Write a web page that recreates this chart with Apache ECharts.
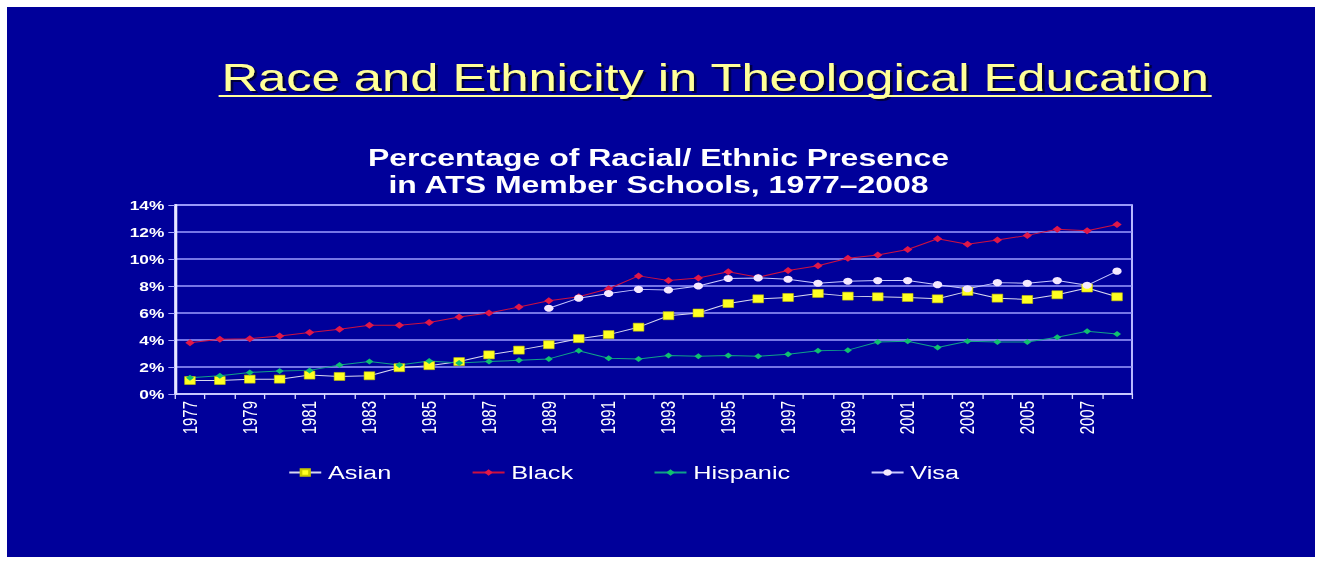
<!DOCTYPE html>
<html>
<head>
<meta charset="utf-8">
<script src="https://cdn.jsdelivr.net/npm/echarts@6/dist/echarts.min.js"></script>
<style>
  html, body { margin: 0; padding: 0; background: #ffffff; width: 1317px; height: 563px; overflow: hidden; }
  #slide { position: absolute; left: 7px; top: 7px; width: 1308px; height: 550px; background: #00009a; }
  #chart { position: absolute; left: 0; top: 0; width: 988px; height: 563px; transform-origin: 0 0; transform: scaleX(1.333006); }
</style>
</head>
<body>
<div id="slide"></div>
<div id="chart"></div>
<script>
// ---- data ----
const years = ['1977','1978','1979','1980','1981','1982','1983','1984','1985','1986','1987','1988','1989','1990','1991','1992','1993','1994','1995','1996','1997','1998','1999','2000','2001','2002','2003','2004','2005','2006','2007','2008'];
const asian = [1.0, 1.0, 1.1, 1.1, 1.4, 1.3, 1.35, 1.95, 2.1, 2.4, 2.9, 3.25, 3.65, 4.1, 4.4, 4.95, 5.8, 6.0, 6.7, 7.05, 7.15, 7.45, 7.25, 7.2, 7.15, 7.05, 7.6, 7.1, 7.0, 7.35, 7.85, 7.2];
const black = [3.8, 4.05, 4.1, 4.3, 4.55, 4.8, 5.1, 5.1, 5.3, 5.7, 6.0, 6.45, 6.9, 7.2, 7.8, 8.75, 8.4, 8.6, 9.05, 8.65, 9.15, 9.5, 10.05, 10.3, 10.7, 11.5, 11.1, 11.4, 11.75, 12.2, 12.1, 12.55];
const hispanic = [1.2, 1.35, 1.6, 1.7, 1.75, 2.15, 2.4, 2.15, 2.45, 2.3, 2.4, 2.5, 2.6, 3.2, 2.65, 2.6, 2.85, 2.8, 2.85, 2.8, 2.95, 3.2, 3.25, 3.85, 3.9, 3.45, 3.9, 3.85, 3.85, 4.2, 4.65, 4.45];
const visa = [null, null, null, null, null, null, null, null, null, null, null, null, 6.35, 7.1, 7.45, 7.75, 7.7, 8.0, 8.55, 8.6, 8.5, 8.2, 8.35, 8.4, 8.4, 8.1, 7.8, 8.25, 8.2, 8.4, 8.05, 9.1];
const seriesNames = ['Asian', 'Black', 'Hispanic', 'Visa'];
const slideTitle = 'Race and Ethnicity in Theological Education';
const chartTitle = 'Percentage of Racial/ Ethnic Presence\nin ATS Member Schools, 1977\u20132008';

const chart = echarts.init(document.getElementById('chart'), null, { renderer: 'svg' });
const FONT = '"Liberation Sans", Arial, sans-serif';
const option = {
  backgroundColor: 'transparent',
  animation: false,
  title: {
    text: chartTitle,
    left: 'center',
    top: 139,
    textStyle: { color: '#ffffff', fontFamily: FONT, fontWeight: 'bold', fontSize: 24, lineHeight: 27 }
  },
  graphic: [
    {
      type: 'text', x: 536.5, y: 58,
      style: { text: slideTitle, textAlign: 'center', fill: '#ffff99', font: '38px ' + FONT, textShadowColor: '#00003a', textShadowOffsetX: 2, textShadowOffsetY: 2, textShadowBlur: 1 }
    },
    {
      type: 'rect', x: 164, y: 95,
      shape: { width: 745, height: 2 },
      style: { fill: '#ffff99' }
    }
  ],
  legend: {
    data: seriesNames,
    left: 211,
    top: 458,
    itemGap: 60,
    itemWidth: 24,
    itemHeight: 8,
    textStyle: { color: '#ffffff', fontFamily: FONT, fontSize: 19 }
  },
  grid: {
    left: 131.3, right: 138.8, top: 205, bottom: 169,
    show: true, borderColor: '#b8b8ff', borderWidth: 1.5, backgroundColor: 'transparent'
  },
  xAxis: {
    type: 'category',
    data: years,
    boundaryGap: true,
    axisLine: { lineStyle: { color: '#d8d8ff', width: 1.5 } },
    axisTick: { show: true, alignWithLabel: false, interval: 0, length: 5, lineStyle: { color: '#d8d8ff' } },
    axisLabel: { rotate: 90, interval: 1, margin: 7, color: '#ffffff', fontFamily: FONT, fontSize: 15 }
  },
  yAxis: {
    type: 'value',
    min: 0, max: 14, interval: 2,
    axisLine: { show: true, lineStyle: { color: '#e8e8ff', width: 2 } },
    axisTick: { show: true, length: 5, lineStyle: { color: '#a8a8ff' } },
    splitLine: { lineStyle: { color: '#9c9cff', width: 1.5 } },
    axisLabel: { formatter: '{value}%', margin: 8, color: '#ffffff', fontFamily: FONT, fontWeight: 'bold', fontSize: 13 }
  },
  series: [
    {
      name: 'Asian', type: 'line', data: asian,
      symbol: 'rect', symbolSize: 8,
      lineStyle: { color: '#d8d8f0', width: 1 },
      itemStyle: { color: '#ffff22', borderColor: '#c8c800', borderWidth: 0.5 }
    },
    {
      name: 'Black', type: 'line', data: black,
      symbol: 'diamond', symbolSize: 7,
      lineStyle: { color: '#cc1040', width: 1 },
      itemStyle: { color: '#e01848' }
    },
    {
      name: 'Hispanic', type: 'line', data: hispanic,
      symbol: 'diamond', symbolSize: 6,
      lineStyle: { color: '#10a088', width: 1 },
      itemStyle: { color: '#10c070' }
    },
    {
      name: 'Visa', type: 'line', data: visa,
      symbol: 'circle', symbolSize: 7,
      lineStyle: { color: '#c8c8ff', width: 1 },
      itemStyle: { color: '#f4e8ff' }
    }
  ]
};
chart.setOption(option);
</script>
</body>
</html>
